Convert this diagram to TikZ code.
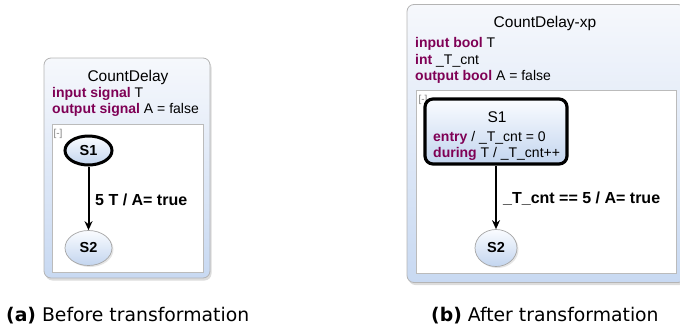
\documentclass[tikz,border=0pt]{standalone}
\usepackage{fontspec}
\setmainfont{Liberation Sans}
\newfontfamily\capfont{DejaVu Sans}
\usetikzlibrary{shapes.geometric,shadows,arrows.meta}
\definecolor{kw}{HTML}{7F0055}
\definecolor{boxtop}{HTML}{F6F8FC}
\definecolor{boxbot}{HTML}{C8D9F2}
\definecolor{sttop}{HTML}{FAFCFF}
\definecolor{stbot}{HTML}{C3D5EF}
\definecolor{bordergray}{HTML}{B4B4B4}
\tikzset{
  outerbox/.style={draw=bordergray, line width=0.8pt, rounded corners=7pt, shading=axis, top color=boxtop, bottom color=boxbot,
    drop shadow={shadow xshift=1.5pt, shadow yshift=-2.5pt, fill=gray!55}, inner sep=0pt},
  innerbox/.style={draw=bordergray!90, line width=0.8pt, fill=white, inner sep=0pt},
  titletext/.style={font=\fontsize{15.5}{17}\selectfont, inner sep=0pt},
  decl/.style={font=\fontsize{14}{16}\selectfont, anchor=west, inner sep=0pt},
  bracket/.style={font=\fontsize{10}{11}\selectfont, text=gray, inner sep=0pt},
  initstate/.style={ellipse, draw=black, line width=3pt, shading=axis, top color=sttop, bottom color=stbot, inner sep=0pt,
    font=\bfseries\fontsize{14.5}{16}\selectfont},
  plainstate/.style={ellipse, draw=gray!70, line width=0.7pt, shading=axis, top color=sttop, bottom color=stbot, inner sep=0pt,
    font=\bfseries\fontsize{14.5}{16}\selectfont, drop shadow={shadow xshift=1.5pt, shadow yshift=-1.5pt, fill=gray!40}},
  macrostate/.style={rectangle, rounded corners=8pt, draw=black, line width=3.2pt, shading=axis, top color=sttop, bottom color=stbot, inner sep=0pt},
  trans/.style={-{Stealth[length=9pt,width=8pt]}, line width=2pt},
  translabel/.style={font=\bfseries\fontsize{16}{18}\selectfont, anchor=west, inner sep=0pt},
  captext/.style={font=\capfont\fontsize{18.8}{21}\selectfont, anchor=west, inner sep=0pt}
}
\begin{document}
\begin{tikzpicture}[x=1pt,y=-1pt]
\useasboundingbox (0,0) rectangle (680,330);
% ---------- (a) ----------
\node[outerbox, minimum width=166pt, minimum height=220pt] (boxA) at (127,168) {};
\node[titletext] (titleA) at (128,77) {CountDelay};
\node[decl] (declA1) at (52,94) {\textbf{\color{kw}input signal} T};
\node[decl] (declA2) at (52,110) {\textbf{\color{kw}output signal} A = false};
\node[innerbox, minimum width=151pt, minimum height=148pt] (regA) at (127.5,198) {};
\node[bracket] (brA) at (58,134) {[-]};
\node[initstate, minimum width=47pt, minimum height=29pt] (s1a) at (88.5,150.5) {S1};
\node[plainstate, minimum width=47pt, minimum height=35pt] (s2a) at (88.5,248) {S2};
\draw[trans] (s1a) -- (s2a);
\node[translabel] (lblA) at (95,200) {5 T / A= true};
% ---------- (b) ----------
\node[outerbox, minimum width=278pt, minimum height=278pt] (boxB) at (546,143.5) {};
\node[titletext] (titleB) at (545,23) {CountDelay-xp};
\node[decl] (declB1) at (415,44) {\textbf{\color{kw}input bool} T};
\node[decl] (declB2) at (415,61) {\textbf{\color{kw}int} \_T\_cnt};
\node[decl] (declB3) at (415,77) {\textbf{\color{kw}output bool} A = false};
\node[innerbox, minimum width=260pt, minimum height=183pt] (regB) at (546,181.5) {};
\node[bracket] (brB) at (423,100) {[-]};
\node[macrostate, minimum width=142pt, minimum height=65pt] (s1b) at (496,131.5) {};
\node[titletext] (s1bname) at (497,117) {S1};
\node[decl] (entryB) at (433,138) {\textbf{\color{kw}entry} / \_T\_cnt = 0};
\node[decl] (duringB) at (433,154) {\textbf{\color{kw}during} T / \_T\_cnt++};
\node[plainstate, minimum width=42pt, minimum height=37pt] (s2b) at (496,248) {S2};
\draw[trans] (s1b) -- (s2b);
\node[translabel] (lblB) at (503,199) {\_T\_cnt == 5 / A= true};
% ---------- captions ----------
\node[captext] (capA) at (6,316) {\textbf{(a)} Before transformation};
\node[captext] (capB) at (431,316) {\textbf{(b)} After transformation};
\end{tikzpicture}
\end{document}
